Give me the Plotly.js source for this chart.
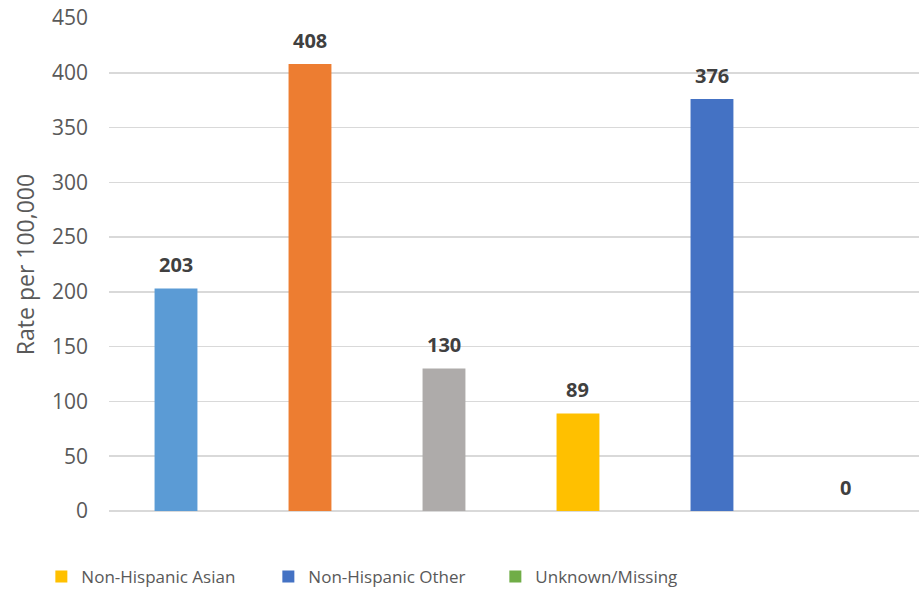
<!DOCTYPE html>
<html>
<head>
<meta charset="utf-8">
<script src="https://cdn.plot.ly/plotly-3.0.1.min.js"></script>
<style>html,body{margin:0;padding:0;background:#fff;}#chart{width:919px;height:593px;}</style>
</head>
<body>
<div id="chart"></div>
<script>
const categories = ["Hispanic", "Non-Hispanic White", "Non-Hispanic Black", "Non-Hispanic Asian", "Non-Hispanic Other", "Unknown/Missing"];
const rates = [203, 408, 130, 89, 376, 0];
const colors = ["#5B9BD5", "#ED7D31", "#AEABAA", "#FFC000", "#4472C4", "#70AD47"];
const inLegend = [false, false, false, true, true, true];
const yTicks = [0, 50, 100, 150, 200, 250, 300, 350, 400, 450];

const traces = categories.map((c, i) => ({
  type: "bar",
  name: c,
  x: [c],
  y: [rates[i]],
  width: 0.32,
  marker: {color: colors[i]},
  showlegend: inLegend[i],
  hoverinfo: "x+y"
}));

const annotations = categories.map((c, i) => ({
  x: c, y: rates[i], xref: "x", yref: "y",
  text: String(rates[i]),
  showarrow: false,
  yanchor: "middle",
  yshift: 24,
  font: {family: "Open Sans, Noto Sans, sans-serif", size: 20, color: "#404040", weight: "bold"}
}));

const layout = {
  width: 919, height: 593,
  margin: {l: 109, r: 0, t: 18, b: 82},
  paper_bgcolor: "#ffffff", plot_bgcolor: "#ffffff",
  barmode: "overlay",
  showlegend: true,
  xaxis: {
    type: "category",
    categoryorder: "array", categoryarray: categories,
    range: [-0.5, 5.545],
    showticklabels: false, showgrid: false, zeroline: false, showline: false, ticks: ""
  },
  yaxis: {
    range: [0, 450],
    tickvals: yTicks,
    ticktext: yTicks.map(String),
    showgrid: true, gridcolor: "#D9D9D9", gridwidth: 1.5,
    zeroline: true, zerolinecolor: "#D9D9D9", zerolinewidth: 1.5,
    showline: false, ticks: "",
    ticklabelstandoff: 20,
    tickfont: {family: "Open Sans, Noto Sans, sans-serif", size: 21, color: "#595959"},
    title: {text: "Rate per 100,000", standoff: 10,
      font: {family: "Open Sans, Noto Sans, sans-serif", size: 23, color: "#595959"}}
  },
  legend: {
    orientation: "h",
    xref: "container", yref: "container",
    x: 0.045, y: 0.027, xanchor: "left", yanchor: "middle",
    entrywidth: 182,
    itemwidth: 30,
    font: {family: "Open Sans, Noto Sans, sans-serif", size: 17, color: "#595959"},
    bgcolor: "rgba(0,0,0,0)"
  },
  annotations: annotations
};

Plotly.newPlot("chart", traces, layout, {displayModeBar: false, staticPlot: true});
</script>
</body>
</html>
